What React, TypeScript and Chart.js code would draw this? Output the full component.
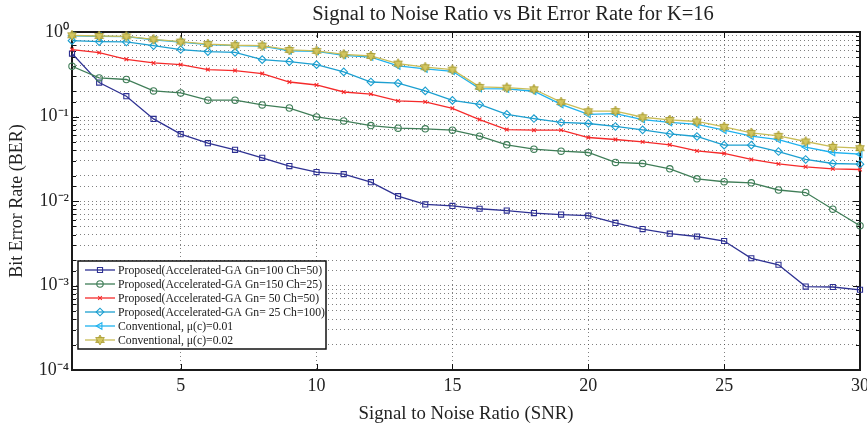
import React, { useEffect, useRef } from 'react';
import { Chart, registerables } from 'chart.js';
import { drawPoint } from 'chart.js/helpers';

Chart.register(...registerables);

const FAMILY = "'Liberation Serif', 'Times New Roman', serif";

const snr = [1, 2, 3, 4, 5, 6, 7, 8, 9, 10, 11, 12, 13, 14, 15, 16, 17, 18, 19, 20, 21, 22, 23, 24, 25, 26, 27, 28, 29, 30];
const xTickValues = [5, 10, 15, 20, 25, 30];

const gn100ch50 = [0.556, 0.252, 0.174, 0.0937, 0.0618, 0.0483, 0.0403, 0.0324, 0.0259, 0.022, 0.0208, 0.0167, 0.0114, 0.0091, 0.00875, 0.0081, 0.0077, 0.0072, 0.0069, 0.0067, 0.0055, 0.00465, 0.0041, 0.0038, 0.00336, 0.0021, 0.00176, 0.00097, 0.00096, 0.00089];
const gn150ch25 = [0.393, 0.286, 0.274, 0.201, 0.19, 0.156, 0.156, 0.137, 0.126, 0.0989, 0.0887, 0.078, 0.0727, 0.0714, 0.0689, 0.0585, 0.0462, 0.0411, 0.0389, 0.0375, 0.0286, 0.0278, 0.024, 0.0183, 0.0169, 0.0164, 0.0135, 0.0126, 0.008, 0.0051];
const gn50ch50 = [0.62, 0.57, 0.475, 0.43, 0.411, 0.359, 0.35, 0.322, 0.256, 0.236, 0.195, 0.184, 0.153, 0.149, 0.125, 0.092, 0.07, 0.0689, 0.069, 0.0564, 0.0534, 0.0501, 0.0462, 0.0392, 0.0365, 0.031, 0.0275, 0.0254, 0.024, 0.0236];
const gn25ch100 = [0.79, 0.77, 0.762, 0.69, 0.62, 0.586, 0.575, 0.471, 0.447, 0.411, 0.337, 0.256, 0.248, 0.201, 0.155, 0.139, 0.106, 0.0946, 0.085, 0.0826, 0.0762, 0.0695, 0.0623, 0.058, 0.0458, 0.0458, 0.0385, 0.031, 0.0278, 0.0273];
const conv001 = [0.9, 0.89, 0.88, 0.81, 0.76, 0.71, 0.69, 0.68, 0.6, 0.59, 0.53, 0.505, 0.397, 0.366, 0.343, 0.214, 0.212, 0.199, 0.139, 0.106, 0.108, 0.092, 0.085, 0.0805, 0.0689, 0.0585, 0.0534, 0.0435, 0.0375, 0.0358];
const conv002 = [0.914, 0.897, 0.889, 0.82, 0.77, 0.72, 0.697, 0.69, 0.613, 0.597, 0.545, 0.52, 0.423, 0.383, 0.359, 0.224, 0.22, 0.21, 0.148, 0.1155, 0.116, 0.098, 0.091, 0.0873, 0.0754, 0.064, 0.059, 0.0506, 0.0437, 0.0422];

const seriesLabels = [
  'Proposed(Accelerated-GA Gn=100 Ch=50)',
  'Proposed(Accelerated-GA Gn=150 Ch=25)',
  'Proposed(Accelerated-GA Gn= 50 Ch=50)',
  'Proposed(Accelerated-GA Gn= 25 Ch=100)',
  'Conventional, \u03bc(c)=0.01',
  'Conventional, \u03bc(c)=0.02',
];
const seriesValues = [gn100ch50, gn150ch25, gn50ch50, gn25ch100, conv001, conv002];
const seriesColors = ['#2e3192', '#3f7d57', '#f52a2a', '#1c9fd0', '#1fb2ef', '#c9bd58'];

const chartTitle = 'Signal to Noise Ratio vs Bit Error Rate for K=16';
const xTitle = 'Signal to Noise Ratio (SNR)';
const yTitle = 'Bit Error Rate (BER)';

const SUP: Record<string, string> = { '-': '\u207b', '0': '\u2070', '1': '\u00b9', '2': '\u00b2', '3': '\u00b3', '4': '\u2074' };
const sup = (n: number) => String(n).split('').map((c) => SUP[c] || c).join('');

function makeHexagram(color: string): HTMLCanvasElement {
  const c = document.createElement('canvas');
  c.width = 12;
  c.height = 12;
  const g = c.getContext('2d')!;
  const cx = 6, cy = 6, r = 5;
  g.fillStyle = color;
  g.strokeStyle = '#a89a30';
  g.lineWidth = 0.8;
  for (const off of [-Math.PI / 2, Math.PI / 2]) {
    g.beginPath();
    for (let k = 0; k < 3; k++) {
      const a = off + (k * 2 * Math.PI) / 3;
      const px = cx + r * Math.cos(a), py = cy + r * Math.sin(a);
      if (k === 0) g.moveTo(px, py); else g.lineTo(px, py);
    }
    g.closePath();
    g.fill();
    g.stroke();
  }
  return c;
}

export default function App() {
  const ref = useRef<HTMLCanvasElement | null>(null);

  useEffect(() => {
    if (!ref.current) return;
    document.body.style.margin = '0';
    const star = makeHexagram('#d2c660');

    const markers: any[] = [
      { pointStyle: 'rect', pointRadius: 3.6, rotation: 0, fill: 'rgba(255,255,255,0)' },
      { pointStyle: 'circle', pointRadius: 3.2, rotation: 0, fill: 'rgba(255,255,255,0)' },
      { pointStyle: 'crossRot', pointRadius: 2.6, rotation: 0, fill: 'rgba(255,255,255,0)' },
      { pointStyle: 'rectRot', pointRadius: 3.8, rotation: 0, fill: 'rgba(255,255,255,0)' },
      { pointStyle: 'triangle', pointRadius: 3.8, rotation: -90, fill: 'rgba(255,255,255,0)' },
      { pointStyle: star, pointRadius: 5, rotation: 0, fill: seriesColors[5] },
    ];

    const datasets = seriesValues.map((vals, i) => ({
      label: seriesLabels[i],
      data: snr.map((x, j) => ({ x, y: vals[j] })),
      borderColor: seriesColors[i],
      backgroundColor: markers[i].fill,
      borderWidth: 1.3,
      pointStyle: markers[i].pointStyle,
      pointRadius: markers[i].pointRadius,
      pointRotation: markers[i].rotation,
      pointBorderWidth: 1.1,
      pointBorderColor: seriesColors[i],
      pointBackgroundColor: markers[i].fill,
      tension: 0,
      clip: false as any,
      order: 5 - i,
    }));

    const framePlugin = {
      id: 'frame',
      beforeDatasetsDraw(chart: any) {
        const { ctx, chartArea: a, scales } = chart;
        ctx.save();
        ctx.strokeStyle = '#111';
        ctx.lineWidth = 1;
        for (const v of xTickValues) {
          const px = Math.round(scales.x.getPixelForValue(v)) + 0.5;
          ctx.beginPath();
          ctx.moveTo(px, a.bottom); ctx.lineTo(px, a.bottom - 6);
          ctx.moveTo(px, a.top); ctx.lineTo(px, a.top + 6);
          ctx.stroke();
        }
        for (const t of scales.y.ticks) {
          const l = Math.log10(t.value);
          const major = Math.abs(l - Math.round(l)) < 1e-9;
          const len = major ? 7 : 4;
          const py = Math.round(scales.y.getPixelForValue(t.value)) + 0.5;
          ctx.beginPath();
          ctx.moveTo(a.left, py); ctx.lineTo(a.left + len, py);
          ctx.moveTo(a.right, py); ctx.lineTo(a.right - len, py);
          ctx.stroke();
        }
        ctx.lineWidth = 2;
        ctx.strokeStyle = '#1a1a1a';
        ctx.strokeRect(a.left, a.top, a.right - a.left, a.bottom - a.top);
        ctx.restore();
      },
    };

    const overlayPlugin = {
      id: 'overlay',
      afterDraw(chart: any) {
        const { ctx, chartArea: a } = chart;
        ctx.save();
        ctx.font = `20.5px ${FAMILY}`;
        ctx.fillStyle = '#222';
        ctx.textAlign = 'center';
        ctx.textBaseline = 'alphabetic';
        ctx.fillText(chartTitle, 513, 20);

        const lx = a.left + 6;
        const ly = a.bottom - 109;
        const lw = 248;
        const lh = 88;
        ctx.fillStyle = '#fff';
        ctx.fillRect(lx, ly, lw, lh);
        ctx.lineWidth = 1.5;
        ctx.strokeStyle = '#111';
        ctx.strokeRect(lx, ly, lw, lh);
        ctx.font = `11.7px ${FAMILY}`;
        ctx.textAlign = 'left';
        ctx.textBaseline = 'middle';
        seriesLabels.forEach((label, i) => {
          const cy = ly + 9 + i * 14;
          ctx.strokeStyle = seriesColors[i];
          ctx.lineWidth = 1.3;
          ctx.beginPath();
          ctx.moveTo(lx + 7, cy);
          ctx.lineTo(lx + 37, cy);
          ctx.stroke();
          ctx.fillStyle = markers[i].fill;
          ctx.lineWidth = 1.1;
          drawPoint(ctx, { pointStyle: markers[i].pointStyle, radius: markers[i].pointRadius, rotation: markers[i].rotation, borderWidth: 1.1 } as any, lx + 22, cy);
          ctx.fillStyle = '#1a1a1a';
          ctx.fillText(label, lx + 40, cy + 0.5);
        });
        ctx.restore();
      },
    };

    const chart = new Chart(ref.current, {
      type: 'line',
      data: { datasets },
      options: {
        animation: false,
        responsive: false,
        maintainAspectRatio: false,
        layout: { padding: { top: 32, right: 7, left: 0, bottom: 0 } },
        plugins: {
          legend: { display: false },
          title: { display: false },
          tooltip: { enabled: false },
        },
        scales: {
          x: {
            type: 'linear',
            min: 1,
            max: 30,
            afterBuildTicks: (s: any) => {
              s.ticks = xTickValues.map((v) => ({ value: v }));
            },
            afterFit: (s: any) => {
              s.height = 60;
              s.paddingLeft = 0;
              s.paddingRight = 0;
            },
            grid: { color: 'rgba(60,60,60,0.65)', lineWidth: 1, drawTicks: false },
            border: { display: false, dash: [1, 3] },
            ticks: {
              font: { family: FAMILY, size: 18 },
              color: '#222',
              padding: 5,
              maxRotation: 0,
              autoSkip: false,
              callback: (v: any) => String(v),
            },
            title: {
              display: true,
              text: xTitle,
              font: { family: FAMILY, size: 18.8 },
              color: '#222',
              padding: { top: 0, bottom: 5 },
            },
          },
          y: {
            type: 'logarithmic',
            min: 1e-4,
            max: 1,
            afterFit: (s: any) => {
              s.width = 72;
              s.paddingTop = 0;
              s.paddingBottom = 0;
            },
            grid: { color: 'rgba(60,60,60,0.65)', lineWidth: 1, drawTicks: false },
            border: { display: false, dash: [1, 3] },
            ticks: {
              font: { family: FAMILY, size: 18 },
              color: '#222',
              padding: 3,
              autoSkip: false,
              callback: (v: any) => {
                const l = Math.log10(Number(v));
                const r = Math.round(l);
                return Math.abs(l - r) < 1e-9 ? '10' + sup(r) : '';
              },
            },
            title: {
              display: true,
              text: yTitle,
              font: { family: FAMILY, size: 18 },
              color: '#222',
              padding: { top: 6, bottom: 0 },
            },
          },
        },
      },
      plugins: [framePlugin, overlayPlugin],
    } as any);

    return () => chart.destroy();
  }, []);

  return (
    <div style={{ position: 'absolute', left: 0, top: 0, width: 867, height: 430, background: '#fff' }}>
      <canvas ref={ref} width={867} height={430} style={{ display: 'block', width: 867, height: 430 }} />
    </div>
  );
}
